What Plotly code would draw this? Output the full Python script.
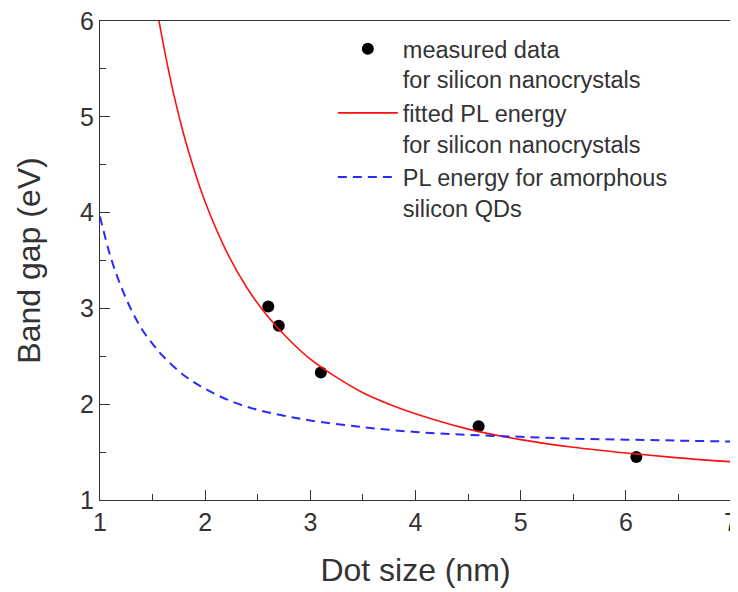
import plotly.graph_objects as go

# measured data for silicon nanocrystals
meas_x = [2.6, 2.7, 3.1, 4.6, 6.1]
meas_y = [3.02, 2.82, 2.33, 1.77, 1.45]

# fitted PL energy for silicon nanocrystals
fit_x = [1.55, 1.6, 1.7, 1.8, 1.9, 2.0, 2.2, 2.4, 2.6, 2.8, 3.0, 3.25, 3.5, 3.75, 4.0, 4.5, 5.0, 5.5, 6.0, 6.5, 7.0]
fit_y = [6.07, 5.77, 5.24, 4.80, 4.43, 4.11, 3.60, 3.21, 2.91, 2.67, 2.47, 2.28, 2.12, 2.00, 1.90, 1.74, 1.63, 1.55, 1.49, 1.44, 1.40]

# PL energy for amorphous silicon QDs
amo_x = [1.0, 1.1, 1.2, 1.3, 1.4, 1.5, 1.6, 1.8, 2.0, 2.25, 2.5, 2.75, 3.0, 3.5, 4.0, 4.5, 5.0, 5.5, 6.0, 6.5, 7.0]
amo_y = [3.96, 3.54, 3.23, 2.98, 2.78, 2.63, 2.50, 2.30, 2.16, 2.03, 1.94, 1.88, 1.83, 1.76, 1.71, 1.68, 1.66, 1.64, 1.63, 1.62, 1.61]

x_ticks = [1, 2, 3, 4, 5, 6, 7]
y_ticks = [1, 2, 3, 4, 5, 6]

FONT = "Liberation Sans, Arial, sans-serif"
TXT = "#333333"

fig = go.Figure()
fig.add_trace(go.Scatter(
    x=meas_x, y=meas_y, mode="markers",
    name="measured data<br>for silicon nanocrystals",
    marker=dict(color="black", size=12),
))
fig.add_trace(go.Scatter(
    x=fit_x, y=fit_y, mode="lines", line_shape="spline",
    name="fitted PL energy<br>for silicon nanocrystals",
    line=dict(color="#ff1010", width=1.6),
))
fig.add_trace(go.Scatter(
    x=amo_x, y=amo_y, mode="lines", line_shape="spline",
    name="PL energy for amorphous<br>silicon QDs",
    line=dict(color="#2a2aff", width=2, dash="9px,6px"),
))

axis_common = dict(
    showgrid=False, zeroline=False, showline=True, linecolor="#333333", linewidth=1.3,
    mirror=True, ticks="inside", ticklen=10, tickwidth=1.3, tickcolor="#333333",
    tickfont=dict(family=FONT, size=25, color=TXT), automargin=False,
    ticklabeloverflow="allow",
)

# page body adds an 8px offset, so the figure is 8px smaller and margins shifted
fig.update_layout(
    width=730, height=584,
    margin=dict(l=92, r=7, t=13, b=92),
    paper_bgcolor="white", plot_bgcolor="white",
    font=dict(family=FONT, color=TXT),
    showlegend=True,
    legend=dict(
        x=0.369, y=0.9875, xanchor="left", yanchor="top",
        bgcolor="rgba(0,0,0,0)", borderwidth=0,
        font=dict(family=FONT, size=23.5, color=TXT),
        valign="top", itemwidth=60, tracegroupgap=0,
    ),
    xaxis=dict(
        range=[1, 7], tickvals=x_ticks,
        minor=dict(dtick=0.5, ticks="inside", ticklen=6, tickcolor="#333333", tickwidth=1.3),
        title=dict(text="Dot size (nm)", font=dict(family=FONT, size=32, color=TXT), standoff=23),
        **axis_common,
    ),
    yaxis=dict(
        range=[1, 6], tickvals=y_ticks,
        minor=dict(dtick=0.5, ticks="inside", ticklen=6, tickcolor="#333333", tickwidth=1.3),
        title=dict(text="Band gap (eV)", font=dict(family=FONT, size=32, color=TXT), standoff=29),
        **axis_common,
    ),
)

fig.write_html("out.html")
